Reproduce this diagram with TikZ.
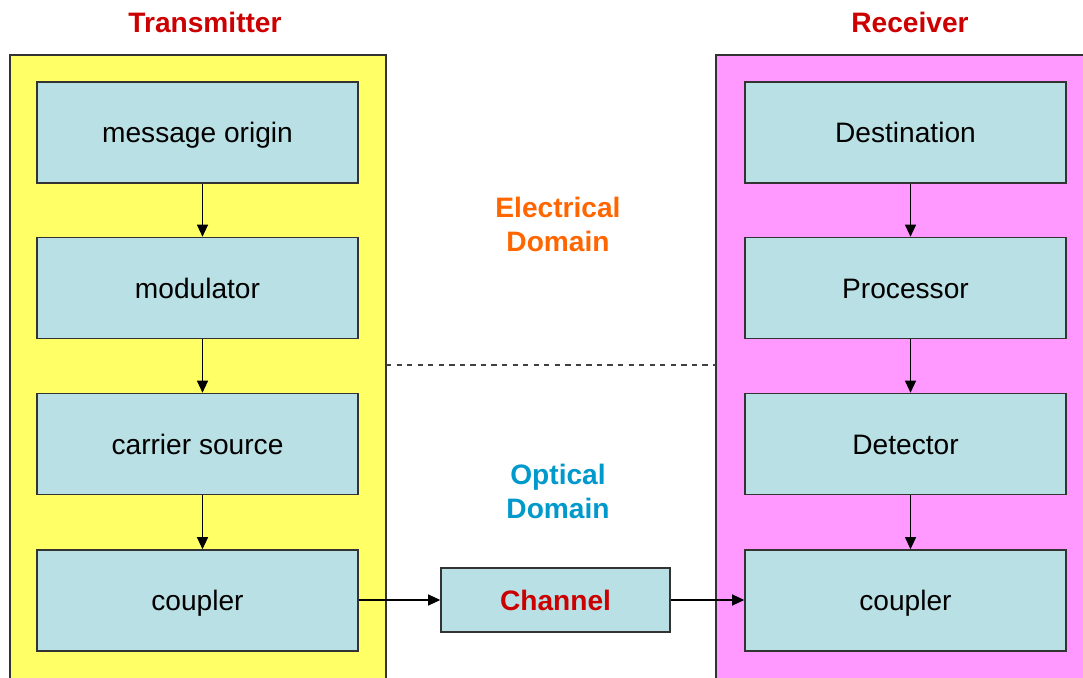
\documentclass[tikz,border=0pt]{standalone}
\usepackage{fontspec}
\setmainfont{Liberation Sans}
\usetikzlibrary{arrows.meta}
\definecolor{boxfill}{RGB}{185,224,228}
\definecolor{txpanel}{RGB}{255,255,102}
\definecolor{rxpanel}{RGB}{255,153,255}
\definecolor{titlered}{RGB}{204,0,0}
\definecolor{elorange}{RGB}{255,102,0}
\definecolor{opblue}{RGB}{0,153,204}
\begin{document}
\begin{tikzpicture}[
  block/.style={draw=black!80, line width=0.9pt, fill=boxfill, minimum width=6.42cm, minimum height=2.02cm, text height=11.6pt, text depth=0pt, font=\fontsize{16}{19}\selectfont},
  panel/.style={draw=black!80, line width=0.9pt},
  headtext/.style={font=\fontsize{16}{19}\selectfont\bfseries, text=titlered},
  domaintext/.style={font=\fontsize{16}{19.3}\selectfont\bfseries, align=center},
  link/.style={line width=0.6pt, -{Triangle[length=2.4mm,width=2.2mm]}}
]
\clip (0,0) rectangle (21.66,13.54);
\fill[white] (0,0) rectangle (21.66,13.54);
\draw[panel, fill=txpanel] (0.2,-0.5) rectangle (7.72,12.44);
\draw[panel, fill=rxpanel] (14.32,-0.5) rectangle (22,12.44);
\draw[dashed, black!75, line width=0.6pt] (7.72,6.24) -- (14.32,6.24);

\node[headtext] (tx) at (4.1,13.1) {Transmitter};
\node[headtext] (rx) at (18.2,13.1) {Receiver};
\node[domaintext, text=elorange] (el) at (11.16,9.06) {Electrical\\Domain};
\node[domaintext, text=opblue] (op) at (11.16,3.72) {Optical\\Domain};

\node[block] (mo) at (3.95,10.89) {message origin};
\node[block] (md) at (3.95,7.78) {modulator};
\node[block] (cs) at (3.95,4.66) {carrier source};
\node[block] (tc) at (3.95,1.53) {coupler};

\node[block] (de) at (18.11,10.89) {Destination};
\node[block] (pr) at (18.11,7.78) {Processor};
\node[block] (dt) at (18.11,4.66) {Detector};
\node[block] (rc) at (18.11,1.53) {coupler};

\node[block, minimum width=4.58cm, minimum height=1.28cm, font=\fontsize{16}{19}\selectfont\bfseries, text=titlered] (ch) at (11.11,1.54) {Channel};

\draw[link] ([xshift=1mm]mo.south) -- ([xshift=1mm]md.north);
\draw[link] ([xshift=1mm]md.south) -- ([xshift=1mm]cs.north);
\draw[link] ([xshift=1mm]cs.south) -- ([xshift=1mm]tc.north);
\draw[link] ([xshift=1mm]de.south) -- ([xshift=1mm]pr.north);
\draw[link] ([xshift=1mm]pr.south) -- ([xshift=1mm]dt.north);
\draw[link] ([xshift=1mm]dt.south) -- ([xshift=1mm]rc.north);
\draw[link] (tc.east |- ch.west) -- (ch.west);
\draw[link] (ch.east) -- (rc.west |- ch.east);
\end{tikzpicture}
\end{document}
